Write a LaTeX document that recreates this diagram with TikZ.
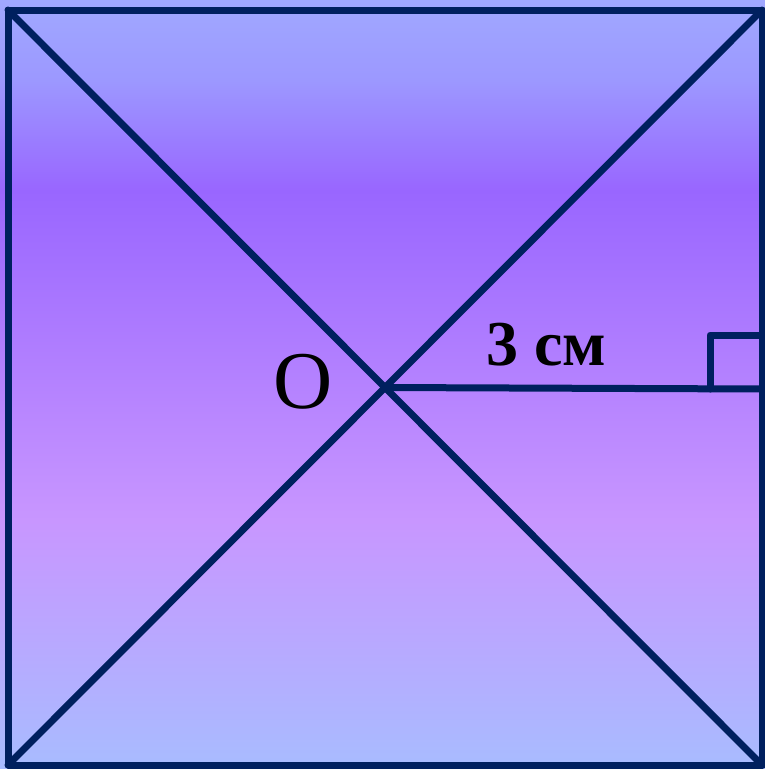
\documentclass[tikz,border=0pt]{standalone}
\usepackage{fontspec}
\setmainfont{Liberation Serif}
\begin{document}
\begin{tikzpicture}[x=1pt,y=-1pt,
  edge/.style={draw=navy,line width=7pt,line join=round,line cap=round}]
\definecolor{navy}{HTML}{00205F}
\definecolor{cA}{HTML}{A0A8FF}
\definecolor{cB}{HTML}{9C98FF}
\definecolor{cC}{HTML}{9966FF}
\definecolor{cD}{HTML}{C896FF}
\definecolor{cE}{HTML}{A8BCFF}
\useasboundingbox (0,0) rectangle (765,769);
\shade[top color=cA,bottom color=cB] (0,0) rectangle (765,80.5);
\shade[top color=cB,bottom color=cC] (0,80) rectangle (765,190.5);
\shade[top color=cC,bottom color=cD] (0,190) rectangle (765,520.5);
\shade[top color=cD,bottom color=cE] (0,520) rectangle (765,769);
\coordinate (tl) at (8,10);
\coordinate (tr) at (762,10);
\coordinate (br) at (762,765);
\coordinate (bl) at (8,765);
\coordinate (O) at (385,387.5);
\coordinate (H) at (762,389);
\draw[edge] (tl) -- (tr) -- (br) -- (bl) -- cycle;
\draw[edge] (tl) -- (br);
\draw[edge] (bl) -- (tr);
\draw[edge] (O) -- (H);
\draw[edge] (710,389) -- (710,335) -- (762,335);
\node[font=\fontsize{82}{90}\selectfont] (lo) at (303,382) {O};
\node[font=\fontsize{64}{70}\selectfont\bfseries,anchor=base] (lab) at (546,365) {3 см};
\end{tikzpicture}
\end{document}
